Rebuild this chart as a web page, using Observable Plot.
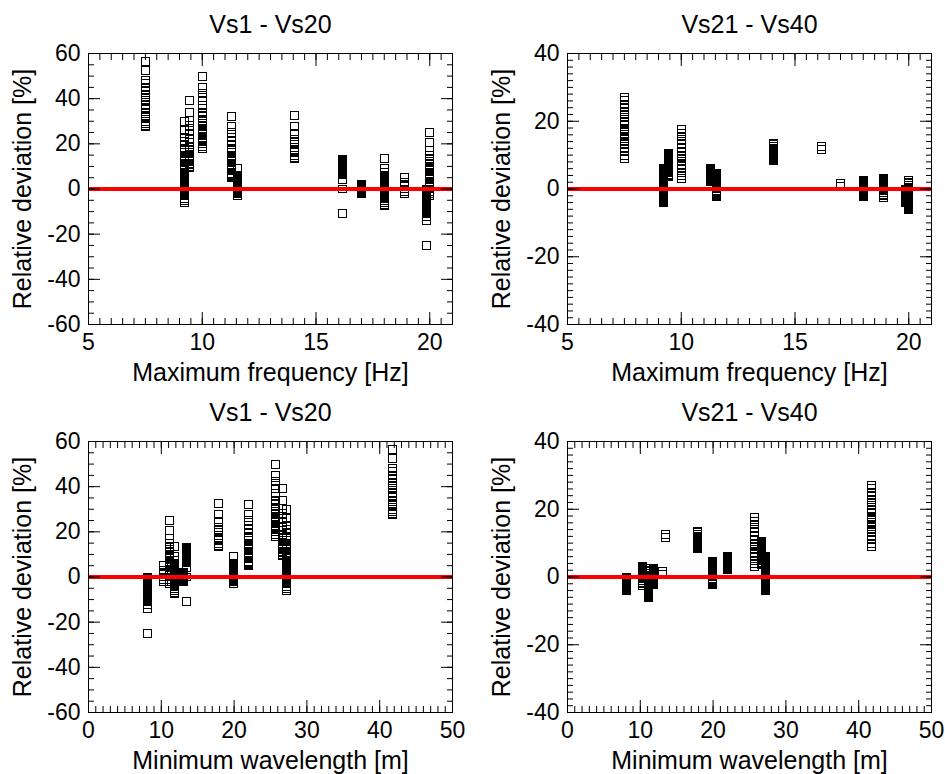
<!DOCTYPE html>
<html>
<head>
<meta charset="utf-8">
<script src="https://cdn.jsdelivr.net/npm/d3@7"></script>
<script src="https://cdn.jsdelivr.net/npm/@observablehq/plot@0.6"></script>
<style>
  html, body { margin: 0; padding: 0; background: #fff; }
  #wrap { position: relative; width: 945px; height: 774px; background: #fff; }
  #wrap > div { position: absolute; }
  svg { overflow: visible; }
</style>
</head>
<body>
<div id="wrap">
  <div id="p1" style="left:0px;top:0px"></div>
  <div id="p2" style="left:472px;top:0px"></div>
  <div id="p3" style="left:0px;top:387px"></div>
  <div id="p4" style="left:472px;top:387px"></div>
</div>
<script>
// ---- Data ----
const titleA = "Vs1 - Vs20";
const titleB = "Vs21 - Vs40";
const xLabelTop = "Maximum frequency [Hz]";
const xLabelBottom = "Minimum wavelength [m]";
const yLabel = "Relative deviation [%]";

// maximum frequency [Hz] of each model column (same for both groups)
const fmax = [7.5, 9.2, 9.45, 10.0, 11.3, 11.55, 14.05, 16.15, 17.0, 18.0, 18.9, 19.85, 20.0];
// minimum wavelength [m] of each model column
const lambdaMin = [41.7, 27.2, 26.6, 25.7, 22.0, 19.9, 17.8, 13.5, 13.0, 11.8, 10.3, 8.1, 11.1];

// relative deviations [%] Vs1 - Vs20
const devVs1_20 = [
  [56.5, 52.5, 48, 46.5, 45, 43.5, 42, 40.5, 39, 37.5, 36, 35, 33.5, 32, 31, 30, 29, 28, 27.5],
  [30, 26, 23, 21, 19.5, 18, 17, 16, 15, 14, 13, 12, 11, 10, 9.5, 9, 8.5, 8, 7.5, 7, 6, 5, 4.5, 4, 3.5, 3, 2.6, 2.2, 1.8, 1.4, 1, 0.6, 0.2, -0.2, -0.6, -1, -1.5, -2, -3, -4, -5, -6],
  [39, 34, 30.5, 28, 26, 24, 22, 20.5, 19, 17.5, 16, 15, 14.2, 13.8, 13.4, 13, 12.6, 12.2, 11.5, 11, 10, 9.5],
  [50, 45, 42.5, 40.5, 39, 37, 35.5, 34, 32.5, 31, 30, 29, 28, 27, 26, 25, 24, 23, 22, 21, 20, 19, 18],
  [32, 27.5, 25, 23, 21, 19.5, 18, 17, 16, 15, 14, 13, 12, 11, 10, 9, 8, 7, 6.5, 6, 5.5, 5],
  [9, 6, 5.5, 5, 4.6, 4.2, 3.8, 3.4, 3, 2.6, 2.2, 1.8, 1.4, 1, 0.6, 0.2, -0.2, -0.6, -1, -1.5, -2, -3],
  [32.5, 27.5, 24.5, 22, 20.5, 19.5, 18.5, 17.5, 17, 16.5, 16, 15, 14, 13.5],
  [13, 12.6, 12.2, 11.8, 11.4, 11, 10.6, 10.2, 9.8, 9.4, 9, 8.6, 8.2, 7.8, 7.4, 7, 6.6, 6.2, 4, 0, -11],
  [2, 1.6, 1.2, 0.8, 0.4, 0, -0.4, -0.8, -1.2, -1.6, -2],
  [13.5, 9, 7.5, 6, 5, 4.5, 4, 3.6, 3.2, 2.8, 2.4, 2, 1.6, 1.2, 0.8, 0.4, 0, -0.4, -0.8, -1.2, -1.6, -2, -2.5, -3, -3.5, -4, -5, -6, -7, -7.5],
  [5, 3, 2, 1, 0, -1, -2],
  [0, -0.4, -0.8, -1.2, -1.6, -2, -2.4, -2.8, -3.2, -3.6, -4, -4.4, -4.8, -5.2, -5.6, -6, -6.4, -6.8, -7.2, -7.6, -8, -8.5, -9, -9.5, -10, -11, -12, -14, -25],
  [25, 20.5, 17, 15, 13, 12, 11, 10, 9, 8, 7, 6.5, 6, 5.5, 5, 4.5, 4, 3.5, 3, 2.5, 2, 1.5, 1, 0.5, 0, -1, -2, -3]
];

// relative deviations [%] Vs21 - Vs40
const devVs21_40 = [
  [27, 26, 25, 24, 23, 22, 21, 20, 19.5, 19, 18, 17.5, 17, 16, 15.5, 15, 14, 13.5, 13, 12, 11, 10, 9],
  [6, 5.7, 5.4, 5.1, 4.8, 4.5, 4.2, 3.9, 3.6, 3.3, 3, 2.7, 2.4, 2.1, 1.8, 1.5, 1.2, 0.9, 0.6, 0.3, 0, -0.3, -0.6, -0.9, -1.2, -1.5, -1.8, -2.1, -2.4, -2.7, -3.1, -3.4, -3.7, -4],
  [10.4, 10.1, 9.8, 9.5, 9.2, 8.9, 8.6, 8.3, 8, 7.7, 7.4, 7.1, 6.8, 6.5, 6.2, 5.9, 5.6, 5.2, 4.8, 4.4, 4, 3.6],
  [17.5, 16.5, 15.5, 14.5, 13.5, 13, 12, 11, 10, 9.5, 9, 8, 7, 6, 5, 4, 3],
  [6, 5.7, 5.4, 5.1, 4.8, 4.5, 4.2, 3.9, 3.6, 3.3, 3, 2.7, 2.4, 2.1],
  [4.5, 4.2, 3.9, 3.6, 3.3, 3, 2.7, 2.4, 2.1, 1.8, 1.5, 1.2, 0.9, 0.6, 0.3, 0, -0.3, -0.6, -0.9, -1.2, -1.5, -1.8, -2.1],
  [13.5, 13, 12.5, 12, 11.7, 11.4, 11.1, 10.8, 10.5, 10.2, 9.9, 9.6, 9.3, 9, 8.7, 8.4],
  [12.6, 11.8],
  [1.5, 0.8],
  [2.5, 2.2, 1.9, 1.6, 1.3, 1, 0.7, 0.4, 0.1, -0.2, -0.5, -0.8, -1.1, -1.4, -1.7, -2, -2.3],
  [3, 2.7, 2.4, 2.1, 1.8, 1.5, 1.2, 0.9, 0.6, 0.3, 0, -0.5, -1, -1.5, -2, -2.5],
  [0, -0.3, -0.6, -0.9, -1.2, -1.5, -1.8, -2.1, -2.4, -2.7, -3, -3.3, -3.6, -3.9],
  [2.5, 2, 1.5, 1, 0.5, 0, -0.3, -0.6, -0.9, -1.2, -1.5, -1.8, -2.1, -2.4, -2.7, -3, -3.3, -3.6, -3.9, -4.2, -4.5, -4.8, -5.1, -5.4, -5.7, -6]
];

// axis ticks
const xTicksFreq = [5, 10, 15, 20];
const xMinorFreq = [5, 5.5, 6, 6.5, 7, 7.5, 8, 8.5, 9, 9.5, 10, 10.5, 11, 11.5, 12, 12.5, 13, 13.5, 14, 14.5, 15, 15.5, 16, 16.5, 17, 17.5, 18, 18.5, 19, 19.5, 20, 20.5, 21];
const xTicksLambda = [0, 10, 20, 30, 40, 50];
const xMinorLambda = d3.range(0, 51, 1);
const yTicks60 = [-60, -40, -20, 0, 20, 40, 60];
const yMinor60 = d3.range(-60, 61, 5);
const yTicks40 = [-40, -20, 0, 20, 40];
const yMinor40 = d3.range(-40, 41, 2);

// ---- Build ----
function toPoints(xs, devs) {
  const pts = [];
  devs.forEach((col, i) => col.forEach(v => pts.push({x: xs[i], y: v})));
  return pts;
}

const FONT = "'Liberation Sans', Arial, Helvetica, sans-serif";

function panel({el, title, xLabel, xDomain, xTicks, xMinor, yDomain, yTicks, yMinor, points, marginLeft, marginRight, marginTop, marginBottom, width, height}) {
  const fmt = d => String(d);
  const blank = () => "";
  const chart = Plot.plot({
    width, height, marginLeft, marginRight, marginTop, marginBottom,
    x: {domain: xDomain, axis: null},
    y: {domain: yDomain, axis: null},
    style: {fontFamily: FONT, background: "white", color: "black", overflow: "visible"},
    marks: [
      Plot.dot(points, {x: "x", y: "y", symbol: "square", r: 4.5, stroke: "black", strokeWidth: 1, fill: "none", shapeRendering: "crispEdges"}),
      Plot.ruleY([0], {stroke: "#ff0000", strokeWidth: 4}),
      // inward ticks on all four sides
      Plot.axisX({anchor: "bottom", ticks: xMinor, tickSize: -6, tickFormat: blank, label: null, stroke: "black"}),
      Plot.axisX({anchor: "top", ticks: xMinor, tickSize: -6, tickFormat: blank, label: null, stroke: "black"}),
      Plot.axisX({anchor: "bottom", ticks: xTicks, tickSize: -12, tickFormat: blank, label: null, stroke: "black"}),
      Plot.axisX({anchor: "top", ticks: xTicks, tickSize: -12, tickFormat: blank, label: null, stroke: "black"}),
      Plot.axisY({anchor: "left", ticks: yMinor, tickSize: -6, tickFormat: blank, label: null, stroke: "black"}),
      Plot.axisY({anchor: "right", ticks: yMinor, tickSize: -6, tickFormat: blank, label: null, stroke: "black"}),
      Plot.axisY({anchor: "left", ticks: yTicks, tickSize: -12, tickFormat: blank, label: null, stroke: "black"}),
      Plot.axisY({anchor: "right", ticks: yTicks, tickSize: -12, tickFormat: blank, label: null, stroke: "black"}),
      // tick labels
      Plot.axisX({anchor: "bottom", ticks: xTicks, tickSize: 0, tickPadding: 9, tickFormat: fmt, label: null, fontSize: 23, fill: "black"}),
      Plot.axisY({anchor: "left", ticks: yTicks, tickSize: 0, tickPadding: 8, tickFormat: fmt, label: null, fontSize: 23, fill: "black"}),
      Plot.frame({stroke: "black", strokeWidth: 1}),
      // titles & axis labels
      Plot.text([title], {frameAnchor: "top", dy: -38, lineAnchor: "top", fontSize: 25, fill: "black"}),
      Plot.text([xLabel], {frameAnchor: "bottom", dy: 39, lineAnchor: "top", fontSize: 25, fill: "black"}),
      Plot.text([yLabel], {frameAnchor: "left", dx: -66, rotate: -90, textAnchor: "middle", lineAnchor: "middle", fontSize: 25, fill: "black"})
    ]
  });
  document.getElementById(el).appendChild(chart);
}

const ptsTL = toPoints(fmax, devVs1_20);
const ptsTR = toPoints(fmax, devVs21_40);
const ptsBL = toPoints(lambdaMin, devVs1_20);
const ptsBR = toPoints(lambdaMin, devVs21_40);

panel({el: "p1", title: titleA, xLabel: xLabelTop, xDomain: [5, 21], xTicks: xTicksFreq, xMinor: xMinorFreq,
  yDomain: [-60, 60], yTicks: yTicks60, yMinor: yMinor60, points: ptsTL,
  width: 472, height: 387, marginLeft: 88, marginRight: 20, marginTop: 53, marginBottom: 63});
panel({el: "p2", title: titleB, xLabel: xLabelTop, xDomain: [5, 21], xTicks: xTicksFreq, xMinor: xMinorFreq,
  yDomain: [-40, 40], yTicks: yTicks40, yMinor: yMinor40, points: ptsTR,
  width: 473, height: 387, marginLeft: 95, marginRight: 14, marginTop: 53, marginBottom: 63});
panel({el: "p3", title: titleA, xLabel: xLabelBottom, xDomain: [0, 50], xTicks: xTicksLambda, xMinor: xMinorLambda,
  yDomain: [-60, 60], yTicks: yTicks60, yMinor: yMinor60, points: ptsBL,
  width: 472, height: 387, marginLeft: 88, marginRight: 20, marginTop: 54, marginBottom: 62});
panel({el: "p4", title: titleB, xLabel: xLabelBottom, xDomain: [0, 50], xTicks: xTicksLambda, xMinor: xMinorLambda,
  yDomain: [-40, 40], yTicks: yTicks40, yMinor: yMinor40, points: ptsBR,
  width: 473, height: 387, marginLeft: 95, marginRight: 14, marginTop: 54, marginBottom: 62});
</script>
</body>
</html>
